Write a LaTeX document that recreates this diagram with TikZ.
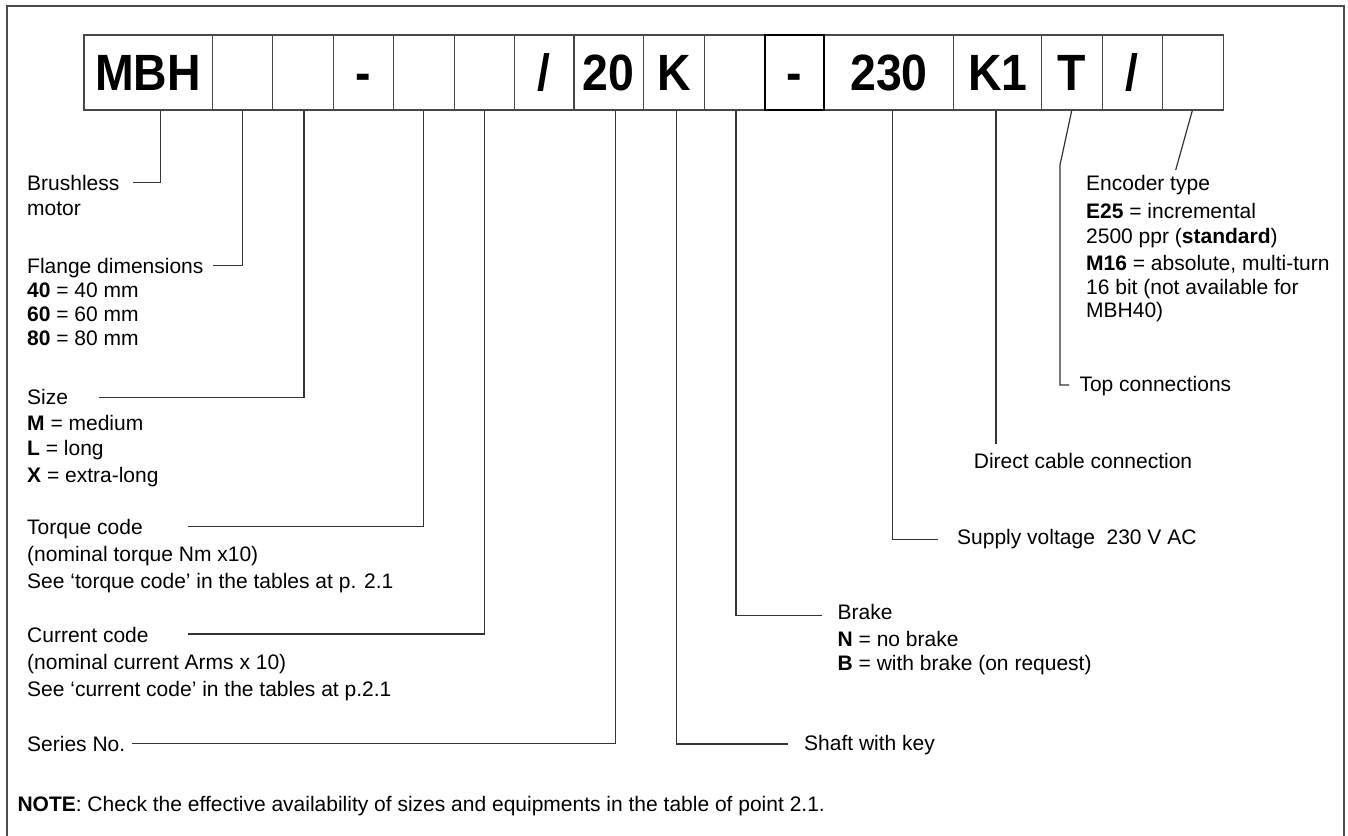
\documentclass[tikz,border=0pt]{standalone}
\usepackage{fontspec}
\setmainfont{Liberation Sans}
\newfontfamily\codefont[FakeStretch=0.91]{Liberation Sans}
\begin{document}
\begin{tikzpicture}[x=1pt,y=-1pt,
  lbl/.style={anchor=base west,inner sep=0pt,font=\fontsize{21}{25}\selectfont},
  codebox/.style={draw=black!72,line width=1.2pt,minimum height=75pt,inner sep=0pt,
    text height=36.7pt,text depth=0pt,font=\codefont\bfseries\fontsize{51}{55}\selectfont},
  darkbox/.style={codebox,draw=black,line width=1.7pt},
  leader/.style={draw=black!80,line width=1.2pt},
  frame/.style={draw=black!70,line width=1.6pt}]
\clip (0,0) rectangle (1348,835);
\fill[white] (0,0) rectangle (1348,835);
\draw[frame] (7,845) |- (1344,5.7) -- (1344,845);
% code boxes
\node[codebox,minimum width=128.3pt] (b1) at (148.15,72.5) {MBH};
\node[codebox,minimum width=60.4pt] (b2) at (242.5,72.5) {};
\node[codebox,minimum width=60.6pt] (b3) at (303,72.5) {};
\node[codebox,minimum width=60pt] (b4) at (363.3,72.5) {-};
\node[codebox,minimum width=61pt] (b5) at (423.8,72.5) {};
\node[codebox,minimum width=60pt] (b6) at (484.3,72.5) {};
\node[codebox,minimum width=59.7pt] (b7) at (544.15,72.5) {/};
\node[codebox,minimum width=69.3pt] (b8) at (608.65,72.5) {20};
\node[codebox,minimum width=61pt] (b9) at (673.8,72.5) {K};
\node[codebox,minimum width=60.7pt] (b10) at (734.65,72.5) {};
\node[codebox,minimum width=129.8pt] (b12) at (888.9,72.5) {230};
\node[codebox,minimum width=87.9pt] (b13) at (997.75,72.5) {K1};
\node[codebox,minimum width=60.6pt] (b14) at (1072,72.5) {T};
\node[codebox,minimum width=60pt] (b15) at (1132.3,72.5) {/};
\node[codebox,minimum width=61pt] (b16) at (1192.8,72.5) {};
\node[darkbox,minimum width=59pt] (b11) at (794.5,72.5) {-};
% leader end points
\coordinate (e1) at (133,182.3);
\coordinate (e2) at (213,265.7);
\coordinate (e3) at (99,397.3);
\coordinate (e5) at (187.5,526.7);
\coordinate (e6) at (187.5,634);
\coordinate (e8) at (132,743.3);
\coordinate (e9) at (788,744);
\coordinate (e10) at (822,615.7);
\coordinate (e12) at (938,539.3);
\coordinate (e13) at (996,444);
\coordinate (t1) at (1060,165);
\coordinate (t2) at (1069,385);
\coordinate (e16) at (1175.7,170);
% leaders
\draw[leader] ([xshift=12.5pt]b1.south) |- (e1);
\draw[leader] (b2.south) |- (e2);
\draw[leader] ([xshift=1pt]b3.south) |- (e3);
\draw[leader] (b5.south) |- (e5);
\draw[leader] (b6.south) |- (e6);
\draw[leader] ([xshift=6.7pt]b8.south) |- (e8);
\draw[leader] ([xshift=3pt]b9.south) |- (e9);
\draw[leader] ([xshift=1.4pt]b10.south) |- (e10);
\draw[leader] ([xshift=3.8pt]b12.south) |- (e12);
\draw[leader] (b13.south -| e13) -- (e13);
\draw[leader] ([xshift=-0.3pt]b14.south) -- (t1) |- (t2);
\draw[leader] ([xshift=-0.5pt]b16.south) -- (e16);
% left labels
\node[lbl] (brush1) at (27,190.7) {Brushless};
\node[lbl] (brush2) at (27,215) {motor};
\node[lbl] (fl0) at (27,273) {Flange dimensions};
\node[lbl] (fl1) at (27,297) {\textbf{40} = 40 mm};
\node[lbl] (fl2) at (27,321) {\textbf{60} = 60 mm};
\node[lbl] (fl3) at (27,345) {\textbf{80} = 80 mm};
\node[lbl] (sz0) at (27,404) {Size};
\node[lbl] (sz1) at (27,430.7) {\textbf{M} = medium};
\node[lbl] (sz2) at (27,455) {\textbf{L} = long};
\node[lbl] (sz3) at (27,482.7) {\textbf{X} = extra-long};
\node[lbl] (tq0) at (27,534) {Torque code};
\node[lbl] (tq1) at (27,561) {(nominal torque Nm x10)};
\node[lbl] (tq2) at (27,588) {See ‘torque code’ in the tables at p. 2.1};
\node[lbl] (cu0) at (27,642.7) {Current code};
\node[lbl] (cu1) at (27,669) {(nominal current Arms x 10)};
\node[lbl] (cu2) at (27,696.7) {See ‘current code’ in the tables at p.2.1};
\node[lbl] (ser) at (27,751.7) {Series No.};
\node[lbl] (note) at (17.3,811.7) {\textbf{NOTE}: Check the effective availability of sizes and equipments in the table of point 2.1.};
% right labels
\node[lbl] (shaft) at (804,750.7) {Shaft with key};
\node[lbl] (br0) at (837.5,619.3) {Brake};
\node[lbl] (br1) at (837.5,646.7) {\textbf{N} = no brake};
\node[lbl] (br2) at (837.5,670.7) {\textbf{B} = with brake (on request)};
\node[lbl] (sup) at (957,544) {Supply voltage\ \ 230 V AC};
\node[lbl] (dir) at (973.7,468) {Direct cable connection};
\node[lbl] (top) at (1079.3,391.7) {Top connections};
\node[lbl] (enc0) at (1086,190.7) {Encoder type};
\node[lbl] (enc1) at (1086,218.3) {\textbf{E25} = incremental};
\node[lbl] (enc2) at (1086,243.3) {2500 ppr (\textbf{standard})};
\node[lbl] (enc3) at (1086,270) {\textbf{M16} = absolute, multi-turn};
\node[lbl] (enc4) at (1086,294.3) {16 bit (not available for};
\node[lbl] (enc5) at (1086,317.3) {MBH40)};
\end{tikzpicture}
\end{document}
